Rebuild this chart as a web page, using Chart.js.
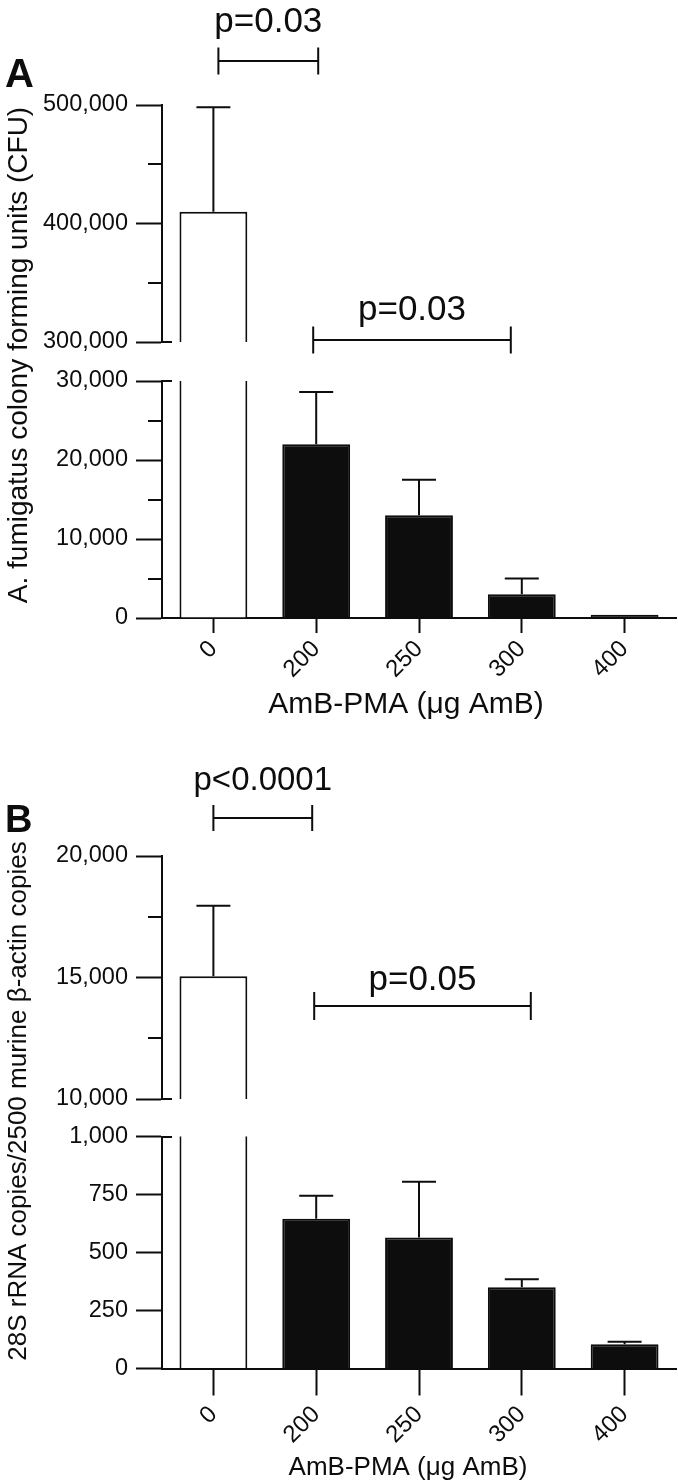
<!DOCTYPE html>
<html><head><meta charset="utf-8">
<script src="https://cdn.jsdelivr.net/npm/chart.js@4.4.1/dist/chart.umd.min.js"></script>
<style>
html,body{margin:0;padding:0;background:#fff;}
#wrap{position:relative;width:678px;height:1482px;overflow:hidden;background:#fff;}
canvas{position:absolute;left:0;top:0;}
</style></head><body>
<div id="wrap">
<canvas id="aLow" width="678" height="1482"></canvas>
<canvas id="aUp" width="678" height="1482"></canvas>
<canvas id="bLow" width="678" height="1482"></canvas>
<canvas id="bUp" width="678" height="1482"></canvas>
</div>
<script>
// ---------- data ----------
const categories = ['0', '200', '250', '300', '400'];

// Panel A: A. fumigatus CFU, mean and upper error
const cfuMean  = [410000, 22000, 13000, 3000, 400];
const cfuError = [88000, 6600, 4500, 2000, 0];

// Panel B: 28S rRNA copies / 2500 murine beta-actin copies
const rnaMean  = [15050, 645, 565, 350, 105];
const rnaError = [2900, 100, 240, 35, 10];

// axis ticks (broken axes)
const aUpperTicks = [300000, 400000, 500000];
const aUpperMinor = [350000, 450000];
const aLowerTicks = [0, 10000, 20000, 30000];
const aLowerMinor = [5000, 15000, 25000];
const bUpperTicks = [10000, 15000, 20000];
const bUpperMinor = [12500, 17500];
const bLowerTicks = [0, 250, 500, 750, 1000];
const bLowerMinor = [];

// significance annotations
const pLabelsA = ['p=0.03', 'p=0.03'];
const pPairsA  = [[0, 1], [1, 3]];
const pLabelsB = ['p<0.0001', 'p=0.05'];
const pPairsB  = [[0, 1], [1, 3]];

// ---------- style ----------
const INK = '#0d0d0d';
const FONT = '"Liberation Sans", Arial, Helvetica, sans-serif';
Chart.defaults.font.family = FONT;
Chart.defaults.color = INK;
const H = 1482;
const CAP = 17;

function segPlugin(cfg) {
  return {
    id: 'seg',
    afterDatasetsDraw(chart) {
      const ctx = chart.ctx, xs = chart.scales.x, ys = chart.scales.y, a = chart.chartArea;
      ctx.save();
      ctx.beginPath();
      ctx.rect(a.left, a.top - 1, a.right - a.left, a.bottom - a.top + 1);
      ctx.clip();
      ctx.strokeStyle = INK; ctx.lineWidth = 2;
      cfg.mean.forEach((m, i) => {
        const e = cfg.err[i];
        if (!e) return;
        const cx = xs.getPixelForValue(i);
        const y0 = ys.getPixelForValue(m), y1 = ys.getPixelForValue(m + e);
        ctx.beginPath();
        ctx.moveTo(cx, y0); ctx.lineTo(cx, y1);
        ctx.moveTo(cx - CAP, y1); ctx.lineTo(cx + CAP, y1);
        ctx.stroke();
      });
      ctx.restore();
      // minor ticks and axis break marks
      ctx.save();
      ctx.strokeStyle = INK; ctx.lineWidth = 2;
      ctx.beginPath();
      cfg.minor.forEach(v => {
        const py = Math.round(ys.getPixelForValue(v));
        ctx.moveTo(a.left - 14, py); ctx.lineTo(a.left, py);
      });
      const by = Math.round(ys.getPixelForValue(cfg.breakAt));
      ctx.moveTo(a.left, by); ctx.lineTo(a.left + 10, by);
      ctx.stroke();
      ctx.restore();
    }
  };
}

function textPlugin(items) {
  return {
    id: 'txt',
    afterDraw(chart) {
      const ctx = chart.ctx;
      items.forEach(t => {
        ctx.save();
        ctx.font = (t.bold ? 'bold ' : '') + t.size + 'px ' + FONT;
        ctx.fillStyle = INK;
        ctx.textAlign = t.align || 'center';
        ctx.textBaseline = 'alphabetic';
        ctx.translate(t.x, t.y);
        if (t.rot) ctx.rotate(t.rot);
        ctx.fillText(t.text, 0, 0);
        ctx.restore();
      });
    }
  };
}

function bracketPlugin(list) {
  return {
    id: 'brk',
    afterDraw(chart) {
      const xs = chart.scales.x, ys = chart.scales.y, ctx = chart.ctx;
      list.forEach(b => {
        const x1 = xs.getPixelForValue(b.pair[0]) + b.dx[0];
        const x2 = xs.getPixelForValue(b.pair[1]) + b.dx[1];
        const py = Math.round(ys.getPixelForValue(b.level));
        ctx.save();
        ctx.strokeStyle = INK; ctx.lineWidth = 2;
        ctx.beginPath();
        ctx.moveTo(x1, py); ctx.lineTo(x2, py);
        ctx.moveTo(x1, py - b.tick); ctx.lineTo(x1, py + b.tick);
        ctx.moveTo(x2, py - b.tick); ctx.lineTo(x2, py + b.tick);
        ctx.stroke();
        ctx.font = b.size + 'px ' + FONT;
        ctx.fillStyle = INK;
        ctx.textAlign = 'center';
        ctx.textBaseline = 'alphabetic';
        ctx.fillText(b.text, (x1 + x2) / 2, py - b.gap);
        ctx.restore();
      });
    }
  };
}

function makeSegment(id, cfg, extra) {
  return new Chart(document.getElementById(id), {
    type: 'bar',
    data: {
      labels: categories,
      datasets: [{
        data: cfg.mean,
        backgroundColor: cfg.mean.map((v, i) => i === 0 ? '#ffffff' : INK),
        borderColor: INK,
        borderWidth: 2,
        borderSkipped: 'start',
        barPercentage: 0.66,
        categoryPercentage: 1,
        clip: 0
      }]
    },
    options: {
      responsive: false, animation: false, devicePixelRatio: 1,
      layout: { padding: cfg.padding },
      plugins: { legend: { display: false }, tooltip: { enabled: false } },
      scales: {
        x: {
          display: cfg.showX, offset: true, z: 1,
          grid: { display: true, drawOnChartArea: false, offset: false, tickLength: cfg.xTickLen || 10, tickWidth: 2, tickColor: INK },
          border: { display: true, width: 2, color: INK },
          ticks: { autoSkip: false, minRotation: 45, maxRotation: 45, padding: cfg.xPad || 3, font: { size: 24 }, color: INK },
          afterFit: s => { s.height = cfg.xHeight || 0; }
        },
        y: {
          min: cfg.min, max: cfg.max,
          afterBuildTicks: s => { s.ticks = cfg.major.map(v => ({ value: v })); },
          grid: { drawOnChartArea: false, tickLength: 26, tickWidth: 2, tickColor: INK },
          border: { display: true, width: 2, color: INK },
          ticks: { padding: 8, font: { size: 23.5 }, color: INK, callback: v => Number(v).toLocaleString('en-US') },
          afterFit: s => { s.width = 162; }
        }
      }
    },
    plugins: [segPlugin(cfg)].concat(extra || [])
  });
}

// ---------- Panel A ----------
makeSegment('aLow', {
  mean: cfuMean, err: cfuError, min: 0, max: 30000, major: aLowerTicks, minor: aLowerMinor, breakAt: 30000,
  showX: true, xTickLen: 15, xPad: 2, xHeight: 100,
  padding: { left: 0, right: 2, top: 381, bottom: H - 618 - 100 }
}, [textPlugin([
  { text: 'A. fumigatus colony forming units (CFU)', x: 27, y: 355, size: 28, rot: -Math.PI / 2 },
  { text: 'AmB-PMA (\u03bcg AmB)', x: 406, y: 713, size: 30 }
])]);

makeSegment('aUp', {
  mean: cfuMean, err: cfuError, min: 300000, max: 500000, major: aUpperTicks, minor: aUpperMinor, breakAt: 300000,
  showX: false,
  padding: { left: 0, right: 2, top: 105, bottom: H - 342 }
}, [
  bracketPlugin([
    { pair: pPairsA[0], text: pLabelsA[0], dx: [5, 2], level: 537000, tick: 13.5, gap: 29, size: 35 },
    { pair: pPairsA[1], text: pLabelsA[1], dx: [-3, -11], level: 301700, tick: 13.5, gap: 20, size: 35 }
  ]),
  textPlugin([{ text: 'A', x: 5, y: 87, size: 40, bold: true, align: 'left' }])
]);

// ---------- Panel B ----------
makeSegment('bLow', {
  mean: rnaMean, err: rnaError, min: 0, max: 1000, major: bLowerTicks, minor: bLowerMinor, breakAt: 1000,
  showX: true, xTickLen: 27, xPad: 5, xHeight: 100,
  padding: { left: 0, right: 2, top: 1136.5, bottom: H - 1368.5 - 100 }
}, [textPlugin([
  { text: '28S rRNA copies/2500 murine \u03b2-actin copies', x: 26, y: 1101, size: 26, rot: -Math.PI / 2 },
  { text: 'AmB-PMA (\u03bcg AmB)', x: 408, y: 1475, size: 26 }
])]);

makeSegment('bUp', {
  mean: rnaMean, err: rnaError, min: 10000, max: 20000, major: bUpperTicks, minor: bUpperMinor, breakAt: 10000,
  showX: false,
  padding: { left: 0, right: 2, top: 856, bottom: H - 1099 }
}, [
  bracketPlugin([
    { pair: pPairsB[0], text: pLabelsB[0], dx: [0, -4], level: 21560, tick: 13, gap: 28, size: 33 },
    { pair: pPairsB[1], text: pLabelsB[1], dx: [-2, 9], level: 13830, tick: 14, gap: 16, size: 35 }
  ]),
  textPlugin([{ text: 'B', x: 5, y: 832, size: 38, bold: true, align: 'left' }])
]);
</script>
</body></html>
